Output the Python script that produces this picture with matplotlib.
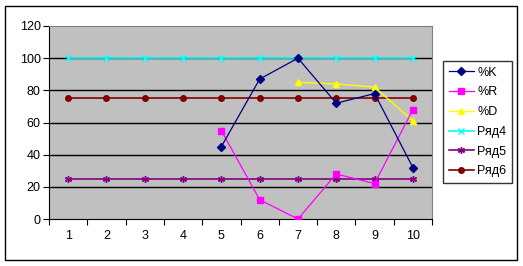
import numpy as np
import matplotlib
matplotlib.use("Agg")
import matplotlib.pyplot as plt
from matplotlib.patches import Rectangle

plt.rcParams['font.family'] = ['Liberation Sans', 'DejaVu Sans']

x = np.arange(1, 11)
nan = np.nan
k_vals = [nan, nan, nan, nan, 45, 87, 100, 72, 78, 32]
r_vals = [nan, nan, nan, nan, 55, 12, 0, 28, 22, 68]
d_vals = [nan, nan, nan, nan, nan, nan, 85, 84, 82, 61]
row4 = [100] * 10
row5 = [25] * 10
row6 = [75] * 10

fig = plt.figure(figsize=(5.23, 2.66), dpi=100)
fig.patch.set_facecolor('white')
# outer chart border
fig.patches.append(Rectangle((5 / 523, 6 / 266), 512 / 523, 254 / 266, transform=fig.transFigure,
                             fill=False, edgecolor='black', linewidth=1))

ax = fig.add_axes([49 / 523, (266 - 219) / 266, 383 / 523, 193 / 266])
ax.set_facecolor('#c0c0c0')

for yy in range(20, 120, 20):
    ax.axhline(yy, color='black', linewidth=1, zorder=1)

ax.plot(x, row4, color='cyan', marker='x', markersize=4, linewidth=1.2, label='Ряд4', zorder=3)
ax.plot(x, row5, color='#800080', marker=(6, 2, 0), markersize=5, linewidth=1.2, label='Ряд5', zorder=3)
ax.plot(x, row6, color='#800000', marker='o', markersize=4, linewidth=1.2, label='Ряд6', zorder=3)
ax.plot(x, d_vals, color='yellow', marker='^', markersize=5, linewidth=1, label='%D', zorder=4)
ax.plot(x, r_vals, color='magenta', marker='s', markersize=5, linewidth=0.9, label='%R', zorder=4)
ax.plot(x, k_vals, color='#000080', marker='D', markersize=4, linewidth=0.9, label='%K', zorder=5)

ax.set_xlim(0.5, 10.5)
ax.set_ylim(0, 120)
ax.set_yticks(range(0, 121, 20))
ax.set_xticks(np.arange(0.5, 10.6, 1))
ax.set_xticklabels([])
ax.set_xticks(x, minor=True)
ax.set_xticklabels([str(i) for i in x], minor=True)
ax.tick_params(axis='x', which='major', length=4, direction='out', color='black')
ax.tick_params(axis='x', which='minor', length=0, pad=8, labelsize=9)
ax.tick_params(axis='y', length=4, direction='out', labelsize=9, pad=2)

for side in ['top', 'right']:
    ax.spines[side].set_color('#808080')
ax.spines['left'].set_color('black')
ax.spines['bottom'].set_color('black')

handles, labels = ax.get_legend_handles_labels()
order = [5, 4, 3, 0, 1, 2]
leg = fig.legend([handles[i] for i in order], [labels[i] for i in order],
                 loc='upper left', bbox_to_anchor=(443 / 523, 1 - 61 / 266),
                 frameon=True, fancybox=False, edgecolor='black', fontsize=9,
                 handlelength=2.0, handletextpad=0.3, borderpad=0.45, labelspacing=0.62,
                 borderaxespad=0)
leg.get_frame().set_linewidth(1)

fig.savefig('out.png', dpi=100)
